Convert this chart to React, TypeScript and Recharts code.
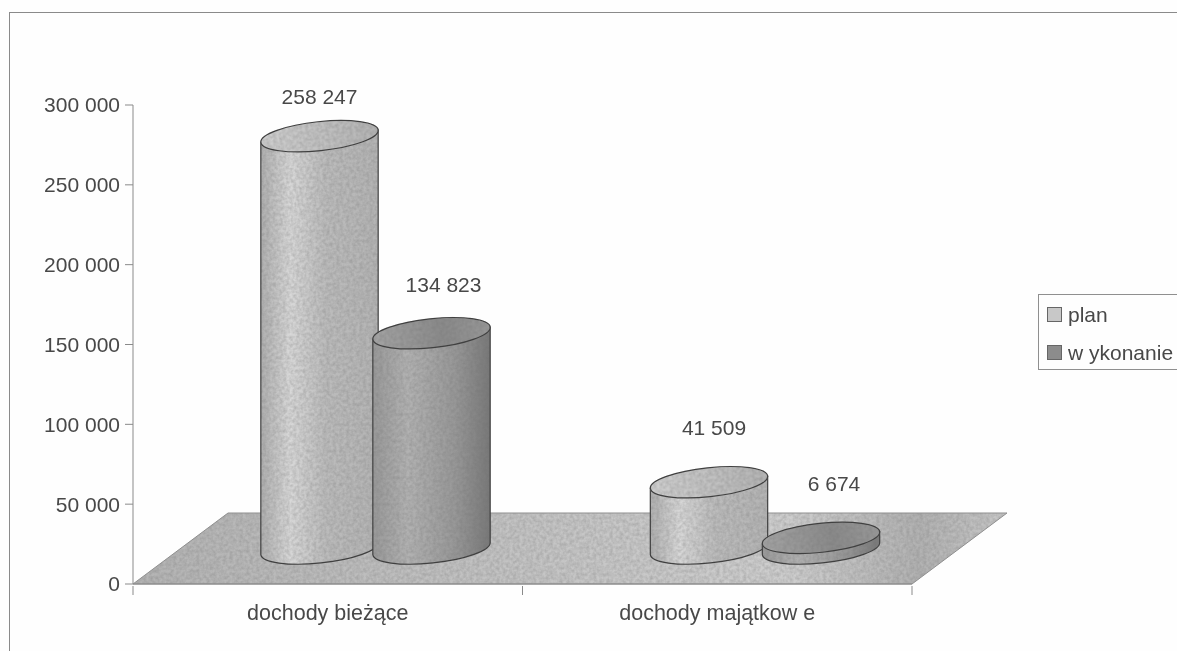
import { Bar, BarChart, LabelList, Legend, XAxis, YAxis, usePlotArea } from 'recharts'

const categories = ['dochody bieżące', 'dochody majątkow e']
const planValues = [258247, 41509]
const wykonanieValues = [134823, 6674]
const yTicks = [0, 50000, 100000, 150000, 200000, 250000, 300000]
const seriesNames = { plan: 'plan', wykonanie: 'w ykonanie' }

const data = categories.map((name, i) => ({
  name,
  plan: planValues[i],
  wykonanie: wykonanieValues[i],
}))

const FONT = '"Liberation Sans", Arial, sans-serif'
const TEXT = '#484848'
const AXIS = '#8a8a8a'

// depth of the fake 3D floor
const DEPTH_X = 47.5
const DEPTH_Y = 35.5
const TILT = (-6 * Math.PI) / 180

const spaced = (v: number) => String(v).replace(/\B(?=(\d{3})+$)/g, ' ')

function Floor() {
  const area = usePlotArea()
  if (!area) return null
  const left = area.x
  const right = area.x + area.width
  const bottom = area.y + area.height
  const pts = [
    [left, bottom],
    [left + DEPTH_X * 2, bottom - DEPTH_Y * 2],
    [right + DEPTH_X * 2, bottom - DEPTH_Y * 2],
    [right, bottom],
  ].map((p) => p.join(',')).join(' ')
  return (
    <g>
      <polygon points={pts} fill="url(#floorFill)" filter="url(#grain)" />
      <polygon points={pts} fill="none" stroke="#8f8f8f" strokeWidth={1} />
    </g>
  )
}

function Cylinder(props: any) {
  const { x, y, width, height, bodyFill, topFill } = props
  const rx = width / 2
  const ry = 14.5
  const cx = x + rx + DEPTH_X
  const top = y - DEPTH_Y
  const bottom = y + height - DEPTH_Y
  const ex = rx * Math.cos(TILT)
  const ey = rx * Math.sin(TILT)
  const deg = (TILT * 180) / Math.PI
  const body = `M${cx - ex},${top - ey} L${cx - ex},${bottom - ey} A${rx},${ry} ${deg} 0 0 ${cx + ex},${bottom + ey} L${cx + ex},${top + ey} Z`
  const rotate = `rotate(${deg} ${cx} ${top})`
  return (
    <g>
      <path d={body} fill={bodyFill} filter="url(#grain)" />
      <path d={body} fill="none" stroke="#404040" strokeWidth={1.2} />
      <ellipse cx={cx} cy={top} rx={rx} ry={ry} fill={topFill} transform={rotate} filter="url(#grain)" />
      <ellipse cx={cx} cy={top} rx={rx} ry={ry} fill="none" stroke="#404040" strokeWidth={1.2} transform={rotate} />
    </g>
  )
}

const labelNudge: Record<string, [number, number]> = {
  '258247': [0, -40],
  '134823': [12, -49],
  '41509': [5, -55],
  '6674': [13, -54],
}

function ValueLabel(props: any) {
  const { x, y, width, value } = props
  const [dx, dy] = labelNudge[String(value)]
  return (
    <text
      x={x + width / 2 + DEPTH_X + dx}
      y={y - DEPTH_Y + dy}
      textAnchor="middle"
      dominantBaseline="central"
      fontFamily={FONT}
      fontSize={21}
      fill={TEXT}
    >
      {spaced(value)}
    </text>
  )
}

function CategoryTick(props: any) {
  const { x, y, payload, index } = props
  const half = 389.5 / 2
  const axisY = y - 8
  return (
    <g>
      <line x1={x - half} x2={x - half} y1={axisY} y2={axisY + 9} stroke={AXIS} />
      {index === categories.length - 1 && <line x1={x + half} x2={x + half} y1={axisY} y2={axisY + 9} stroke={AXIS} />}
      <text x={x} y={axisY + 27} textAnchor="middle" dominantBaseline="central" fontFamily={FONT} fontSize={21.5} fill={TEXT}>
        {payload.value}
      </text>
    </g>
  )
}

function LegendBox({ payload }: any) {
  return (
    <div style={{ border: '1px solid #8f8f8f', height: 76, width: 150, boxSizing: 'border-box', fontFamily: FONT, fontSize: 21, color: TEXT, position: 'relative' }}>
      {(payload ?? []).map((item: any, i: number) => (
        <div key={item.value} style={{ position: 'absolute', left: 8, top: 12 + i * 38, height: 15, display: 'flex', alignItems: 'center', whiteSpace: 'nowrap' }}>
          <span style={{ width: 13, height: 13, border: '1px solid #666', background: i === 0 ? '#c8c8c8' : '#8c8c8c', marginRight: 6, display: 'inline-block' }} />
          {item.value}
        </div>
      ))}
    </div>
  )
}

export default function App() {
  return (
    <div style={{ position: 'absolute', left: 0, top: 0, width: 1177, height: 651, overflow: 'hidden', background: '#fefefe', filter: 'blur(0.6px)' }}>
      <div style={{ position: 'absolute', left: 9, top: 12, width: 1200, height: 700, border: '1px solid #8a8a8a' }} />
      <BarChart
        width={1177}
        height={651}
        data={data}
        barSize={118}
        barGap={-6}
        margin={{ top: 105, right: 115, bottom: 0, left: 0 }}
        style={{ position: 'absolute', left: 0, top: 0 }}
      >
        <defs>
          <filter id="grain" x="-5%" y="-5%" width="110%" height="110%" colorInterpolationFilters="sRGB">
            <feTurbulence type="fractalNoise" baseFrequency="0.3" numOctaves="2" seed="4" result="n" />
            <feColorMatrix in="n" type="matrix" values="0 0 0 0 0.42  0 0 0 0 0.42  0 0 0 0 0.42  0.5 0 0 0 -0.14" result="g" />
            <feComposite in="g" in2="SourceGraphic" operator="atop" />
          </filter>
          <linearGradient id="floorFill" x1="0" x2="1" y1="0" y2="0">
            <stop offset="0" stopColor="#b4b4b4" />
            <stop offset="0.45" stopColor="#c4c4c4" />
            <stop offset="0.75" stopColor="#cecece" />
            <stop offset="0.9" stopColor="#b2b2b2" />
            <stop offset="1" stopColor="#c8c8c8" />
          </linearGradient>
          <linearGradient id="planBody" x1="0" x2="1" y1="0" y2="0">
            <stop offset="0" stopColor="#b0b0b0" />
            <stop offset="0.25" stopColor="#d8d8d8" />
            <stop offset="0.55" stopColor="#bcbcbc" />
            <stop offset="1" stopColor="#b4b4b4" />
          </linearGradient>
          <linearGradient id="planTop" x1="0" x2="1" y1="0" y2="0">
            <stop offset="0" stopColor="#d0d0d0" />
            <stop offset="1" stopColor="#b4b4b4" />
          </linearGradient>
          <linearGradient id="wykBody" x1="0" x2="1" y1="0" y2="0">
            <stop offset="0" stopColor="#999999" />
            <stop offset="0.3" stopColor="#b2b2b2" />
            <stop offset="0.7" stopColor="#989898" />
            <stop offset="1" stopColor="#787878" />
          </linearGradient>
          <linearGradient id="wykTop" x1="0" x2="1" y1="0" y2="0">
            <stop offset="0" stopColor="#a4a4a4" />
            <stop offset="0.6" stopColor="#8a8a8a" />
            <stop offset="1" stopColor="#989898" />
          </linearGradient>
        </defs>
        <XAxis dataKey="name" height={67} tickLine={false} tickSize={8} stroke={AXIS} interval={0} tick={<CategoryTick />} />
        <YAxis
          width={133}
          domain={[0, 300000]}
          ticks={yTicks}
          tickFormatter={spaced}
          tickSize={8}
          tickMargin={5}
          stroke={AXIS}
          tick={{ fontFamily: FONT, fontSize: 21, fill: TEXT }}
        />
        <Floor />
        <Legend
          layout="vertical"
          align="right"
          verticalAlign="top"
          content={<LegendBox />}
          wrapperStyle={{ left: 1038, top: 294, width: 150, height: 76 }}
        />
        <Bar
          dataKey="plan"
          name={seriesNames.plan}
          isAnimationActive={false}
          shape={(p: any) => <Cylinder {...p} bodyFill="url(#planBody)" topFill="url(#planTop)" />}
        >
          <LabelList dataKey="plan" content={<ValueLabel />} />
        </Bar>
        <Bar
          dataKey="wykonanie"
          name={seriesNames.wykonanie}
          isAnimationActive={false}
          shape={(p: any) => <Cylinder {...p} bodyFill="url(#wykBody)" topFill="url(#wykTop)" />}
        >
          <LabelList dataKey="wykonanie" content={<ValueLabel />} />
        </Bar>
      </BarChart>
    </div>
  )
}
